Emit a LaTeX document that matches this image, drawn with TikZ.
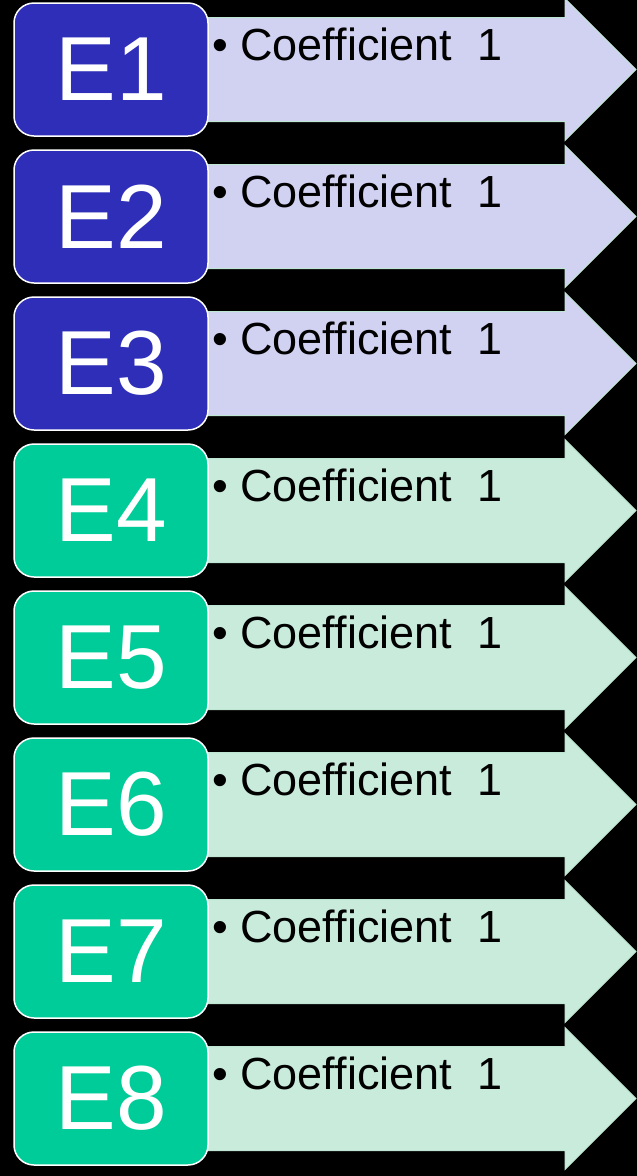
\documentclass[tikz,border=0pt]{standalone}
\usepackage{fontspec}
\setmainfont{Liberation Sans}
\definecolor{eblue}{RGB}{46,46,184}
\definecolor{egreen}{RGB}{0,204,153}
\definecolor{elav}{RGB}{209,209,242}
\definecolor{emint}{RGB}{200,235,220}
\definecolor{arrowline}{RGB}{190,230,210}
\newcommand{\rowpitch}{147}
\tikzset{
  ebox/.style={draw=white, line width=1.5pt, rounded corners=20pt,
    minimum width=194pt, minimum height=133pt, inner sep=0pt,
    text=white, font=\fontsize{91}{91}\selectfont},
  earrow/.style={draw=arrowline, line width=1pt},
  coeff/.style={anchor=base west, inner sep=0pt, font=\fontsize{45}{45}\selectfont}
}

\begin{document}
\begin{tikzpicture}[x=1pt,y=1pt]
  % background
  \fill[black] (0,0) rectangle (637,-1176);
  \useasboundingbox (0,0) rectangle (637,-1176);
  % rows
  \foreach \i/\boxcol/\arrcol in {1/eblue/elav, 2/eblue/elav, 3/eblue/elav,
      4/egreen/emint, 5/egreen/emint, 6/egreen/emint, 7/egreen/emint, 8/egreen/emint}{
    \pgfmathsetmacro{\cy}{-69.5-\rowpitch*(\i-1)}
    \filldraw[earrow,fill=\arrcol] (200,\cy+52) -- (565,\cy+52) -- (565,\cy+71)
      -- (636,\cy) -- (565,\cy-71) -- (565,\cy-52) -- (200,\cy-52) -- cycle;
    \node[ebox,fill=\boxcol] (box\i) at (111,\cy) {E\i};
    \node[coeff] (txt\i) at (212,\cy+9.5) {• Coefficient~~1};
  }
\end{tikzpicture}
\end{document}
